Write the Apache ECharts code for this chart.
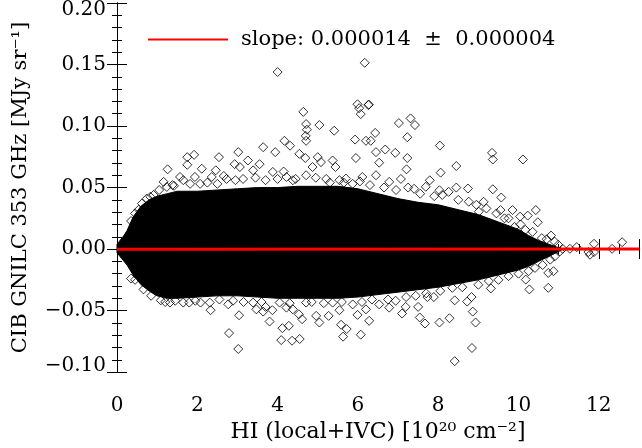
<!DOCTYPE html>
<html>
<head>
<meta charset="utf-8">
<script src="https://cdn.jsdelivr.net/npm/echarts@6/dist/echarts.min.js"></script>
<style>
html,body{margin:0;padding:0;background:#fff;}
#chart{width:642px;height:448px;}
</style>
</head>
<body>
<div id="chart"></div>
<script>
// ---- data ----
var xTicks = [0, 2, 4, 6, 8, 10, 12];
var yTicks = [-0.10, -0.05, 0.00, 0.05, 0.10, 0.15, 0.20];

// envelope of the dense core of points
var bandX = [0, 0.05, 0.15, 0.25, 0.4, 0.6, 0.8, 1.0, 1.25, 1.5, 2.0, 2.5, 3.0, 3.5, 4.0, 4.5, 5.0, 5.5, 6.0, 6.5, 7.0, 7.5, 8.0, 8.5, 9.0, 9.5, 10.0, 10.25, 10.5, 10.75, 11.0, 11.1];
var bandUpper = [0.004, 0.006, 0.010, 0.015, 0.026, 0.035, 0.040, 0.043, 0.045, 0.047, 0.047, 0.048, 0.049, 0.050, 0.050, 0.051, 0.051, 0.051, 0.049, 0.045, 0.041, 0.038, 0.036, 0.032, 0.028, 0.022, 0.016, 0.011, 0.007, 0.004, 0.001, 0.000];
var bandLower = [-0.003, -0.005, -0.009, -0.013, -0.021, -0.029, -0.034, -0.038, -0.040, -0.040, -0.039, -0.038, -0.038, -0.039, -0.040, -0.040, -0.040, -0.040, -0.039, -0.037, -0.035, -0.033, -0.031, -0.028, -0.025, -0.021, -0.017, -0.014, -0.010, -0.006, -0.002, 0.000];

// individual points above the core
var upperPoints = [
  [4.0,0.1439],[6.17,0.1514],[6.03,0.1145],[6.26,0.117],[6.27,0.1175],[4.64,0.1115],[4.71,0.1016],[4.73,0.097],[4.70,0.092],[4.71,0.088],
  [5.04,0.1008],[5.41,0.0962],[5.99,0.1177],[6.07,0.1097],[5.93,0.089],[5.95,0.074],[6.2,0.088],[4.17,0.088],[4.31,0.084],[3.64,0.0828],
  [3.94,0.0788],[4.54,0.0774],[4.69,0.074],[3.02,0.0788],[2.54,0.0747],[1.75,0.0747],[1.92,0.0766],[1.75,0.0685],[1.26,0.0648],[2.11,0.0653],
  [2.46,0.064],[2.93,0.069],[3.26,0.072],[3.55,0.069],[3.06,0.0667],[3.39,0.064],[4.15,0.063],[5.0,0.0747],[5.08,0.0707],[5.37,0.072],
  [5.44,0.0667],[4.87,0.0667],[1.57,0.0586],[1.94,0.0586],[2.36,0.0586],[2.66,0.0594],[3.88,0.0627],[4.38,0.0559],[1.16,0.0546],[1.42,0.0514],
  [0.83,0.0425],[0.35,0.0228],[5.7,0.0573],[6.11,0.0586],
  [7.31,0.1062],[7.02,0.1024],[7.42,0.1008],[7.23,0.0909],[6.43,0.0944],[6.32,0.088],[6.45,0.0788],[6.68,0.0809],[6.93,0.0782],[8.04,0.0841],
  [9.34,0.0782],[9.36,0.0728],[10.11,0.0728],[7.23,0.074],[6.53,0.0702],[8.45,0.0675],[7.21,0.0648],[8.06,0.0621],[7.79,0.0559],[8.45,0.05],
  [8.03,0.0478],[8.74,0.0492],[9.36,0.0486],[9.57,0.0419],[9.13,0.0384],[9.85,0.0317],[10.43,0.0317],[10.48,0.0218],[10.04,0.0264],[9.55,0.0317],
  [10.23,0.0272],[10.81,0.011],[11.88,0.0043],[12.58,0.0056],[12.33,0.0002],[11.45,0.0016],[11.28,0.0002],[11.74,-0.0024],[11.1,0.0002]
];
// individual points below the core
var lowerPoints = [
  [11.78,-0.0046],[11.88,-0.0024],[10.27,-0.0328],[10.74,-0.0315],[9.31,-0.032],[10.87,-0.018],[10.74,-0.0194],[10.18,-0.0248],[8.83,-0.039],[8.41,-0.0417],
  [8.72,-0.0427],[7.73,-0.039],[7.89,-0.039],[7.5,-0.047],[7.19,-0.047],[7.1,-0.0524],[7.54,-0.0556],[7.67,-0.0605],[8.03,-0.0597],[8.28,-0.0562],
  [8.86,-0.0508],[8.93,-0.0597],[8.84,-0.0804],[8.41,-0.0911],[6.78,-0.0476],[6.28,-0.0583],
  [0.35,-0.024],[1.09,-0.0417],[1.32,-0.0435],[1.8,-0.0435],[2.08,-0.0435],[2.33,-0.0497],[2.77,-0.0449],[3.04,-0.0538],[2.79,-0.0683],[3.02,-0.0812],
  [3.47,-0.049],[3.7,-0.047],[3.64,-0.0508],[3.87,-0.0497],[3.8,-0.0589],[4.12,-0.0643],[4.28,-0.0624],[4.09,-0.074],[4.36,-0.0745],[4.55,-0.0731],
  [4.22,-0.0476],[4.38,-0.049],[4.53,-0.053],[4.61,-0.057],[4.96,-0.0543],[5.04,-0.0597],[5.27,-0.0543],[5.58,-0.0615],[5.72,-0.065],[5.63,-0.0712],
  [6.07,-0.0696],[5.99,-0.0535],[6.2,-0.049],[5.54,-0.0497]
];
// points sitting on the ragged edge of the core
var edgeUpper = [
  [0.91,0.044],[0.74,0.041],[0.54,0.032],[1.24,0.0505],[1.65,0.056],[2.07,0.053],[2.73,0.057],[3.14,0.057],[4.22,0.0586],[4.71,0.06],
  [5.21,0.057],[5.54,0.056],[5.87,0.053],[6.45,0.06],[6.78,0.0546],[7.07,0.057],[7.4,0.049],[7.69,0.0506],[8.26,0.0465],[8.76,0.0385],
  [9.01,0.0304],[9.75,0.025],[9.9,0.018],[10.17,0.0156],[10.58,0.0089],[10.99,0.0035],
  [0.45,0.029],[0.62,0.037],[1.05,0.048],[1.38,0.052],[1.82,0.053],[2.25,0.054],[2.5,0.053],[2.95,0.056],[3.45,0.058],[3.7,0.056],
  [4.0,0.057],[4.45,0.057],[4.95,0.058],[5.3,0.054],[5.65,0.054],[6.05,0.055],[6.3,0.052],[6.65,0.05],[6.95,0.048],[7.25,0.05],
  [7.55,0.045],[7.9,0.043],[8.1,0.044],[8.5,0.04],[8.95,0.036],[9.2,0.033],[9.45,0.029],[9.65,0.025],[10.05,0.02],[10.35,0.014],[10.7,0.008],[10.9,0.006]
];
var edgeLower = [
  [0.66,-0.0328],[1.65,-0.0435],[2.31,-0.0435],[2.89,-0.042],[3.39,-0.0435],[4.05,-0.0435],[4.71,-0.0435],[5.37,-0.0435],[5.87,-0.045],[6.53,-0.045],
  [6.94,-0.042],[7.44,-0.038],[8.35,-0.0315],[9.26,-0.026],[9.75,-0.022],[10.41,-0.0153],[10.79,-0.0086],[11.03,-0.0019],
  [0.45,-0.025],[0.85,-0.038],[1.2,-0.043],[1.45,-0.042],[1.95,-0.042],[2.55,-0.041],[3.15,-0.043],[3.6,-0.043],[4.3,-0.044],[4.85,-0.043],
  [5.15,-0.044],[5.6,-0.043],[6.1,-0.043],[6.35,-0.041],[6.75,-0.041],[7.2,-0.039],[7.7,-0.036],[8.05,-0.034],[8.6,-0.031],[9.0,-0.029],
  [9.5,-0.025],[10.0,-0.02],[10.25,-0.018],[10.6,-0.013],[10.9,-0.006]
];

// fitted line
var fitName = 'slope: 0.000014  \u00b1  0.000004';
var fitX = [0, 13];
var fitY = [-0.0001, 0.0001];

// ---- chart ----
var FONT = "'DejaVu Serif', 'Liberation Serif', serif";
var RED = '#ff0000';
function yFmt(v){
  if (Math.abs(v) < 1e-9) v = 0;
  var s = v.toFixed(2).replace('-', '\u2212');
  if (Math.abs(v - 0.2) < 1e-9) return '{top|' + s + '}';
  if (Math.abs(v + 0.1) < 1e-9) return '{bot|' + s + '}';
  return s;
}
var tickCommon = {
  axisLine: {show: true, lineStyle: {color: '#000', width: 1}},
  splitLine: {show: false}
};
var chart = echarts.init(document.getElementById('chart'), null, {renderer: 'canvas'});
var allPts = upperPoints.concat(lowerPoints).concat(edgeUpper).concat(edgeLower);
var diamondStyle = {color: 'rgba(0,0,0,0)', borderColor: '#000', borderWidth: 1};
chart.setOption({
  animation: false,
  backgroundColor: '#fff',
  color: [RED],
  textStyle: {fontFamily: FONT},
  grid: {left: 117, right: 1, top: 3, bottom: 73, containLabel: false},
  legend: {
    show: true,
    data: [{name: fitName, icon: 'path://M0,0L80,0L80,2L0,2Z', itemStyle: {color: RED, borderColor: RED, borderWidth: 0}}],
    left: 143, top: 24,
    itemWidth: 80, itemHeight: 2,
    itemStyle: {color: RED, borderColor: RED, borderWidth: 0},
    textStyle: {fontFamily: FONT, fontSize: 21, color: '#000', padding: [0, 0, 0, 8]},
    selectedMode: false
  },
  xAxis: [
    Object.assign({
      type: 'value', position: 'bottom', min: 0, max: 13, interval: 2,
      axisTick: {show: true, inside: true, length: 10, lineStyle: {color: '#000'}},
      minorTick: {show: true, splitNumber: 4, length: 5, lineStyle: {color: '#000'}},
      axisLabel: {show: true, margin: 24, fontFamily: FONT, fontSize: 20, color: '#000',
        formatter: function(v){ return xTicks.indexOf(v) >= 0 ? String(v) : ''; }},
      name: 'HI (local+IVC) [10\u00b2\u2070 cm\u207b\u00b2]',
      nameLocation: 'middle', nameGap: 44,
      nameTextStyle: {fontFamily: FONT, fontSize: 22, color: '#000'}
    }, tickCommon),
    Object.assign({
      type: 'value', position: 'top', min: 0, max: 13, interval: 2,
      axisTick: {show: true, inside: true, length: 10, lineStyle: {color: '#000'}},
      minorTick: {show: true, splitNumber: 4, length: 5, lineStyle: {color: '#000'}},
      axisLabel: {show: false}
    }, tickCommon)
  ],
  yAxis: [
    Object.assign({
      type: 'value', position: 'left', min: -0.10, max: 0.20, interval: 0.05,
      axisTick: {show: true, inside: true, length: 10, lineStyle: {color: '#000'}},
      minorTick: {show: true, splitNumber: 5, length: 5, lineStyle: {color: '#000'}},
      axisLabel: {show: true, margin: 11, fontFamily: FONT, fontSize: 20, color: '#000',
        formatter: yFmt,
        rich: {
          top: {fontFamily: FONT, fontSize: 20, color: '#000', padding: [14, 0, 0, 0]},
          bot: {fontFamily: FONT, fontSize: 20, color: '#000', padding: [0, 0, 12, 0]}
        }},
      name: 'CIB GNILC 353 GHz [MJy sr\u207b\u00b9]',
      nameLocation: 'middle', nameRotate: 90, nameGap: 86,
      nameTextStyle: {fontFamily: FONT, fontSize: 21, color: '#000'}
    }, tickCommon),
    Object.assign({
      type: 'value', position: 'right', min: -0.10, max: 0.20, interval: 0.05,
      axisTick: {show: true, inside: true, length: 10, lineStyle: {color: '#000'}},
      minorTick: {show: true, splitNumber: 5, length: 5, lineStyle: {color: '#000'}},
      axisLabel: {show: false}
    }, tickCommon)
  ],
  series: [
    {
      type: 'custom',
      name: 'core',
      silent: true,
      data: [0],
      z: 1,
      renderItem: function(params, api){
        var pts = [];
        for (var i = 0; i < bandX.length; i++) pts.push(api.coord([bandX[i], bandUpper[i]]));
        for (var j = bandX.length - 1; j >= 0; j--) pts.push(api.coord([bandX[j], bandLower[j]]));
        return {type: 'polygon', shape: {points: pts}, style: {fill: '#000', stroke: '#000', lineWidth: 1}};
      }
    },
    {
      type: 'scatter',
      name: 'points',
      symbol: 'diamond',
      symbolSize: 9,
      data: allPts,
      itemStyle: diamondStyle,
      z: 2,
      silent: true
    },
    {
      type: 'line',
      name: fitName,
      color: RED,
      data: fitX.map(function(x, i){ return [x, fitY[i]]; }),
      symbol: 'none',
      lineStyle: {color: RED, width: 3},
      itemStyle: {color: RED},
      z: 5,
      silent: true
    }
  ]
});
</script>
</body>
</html>
